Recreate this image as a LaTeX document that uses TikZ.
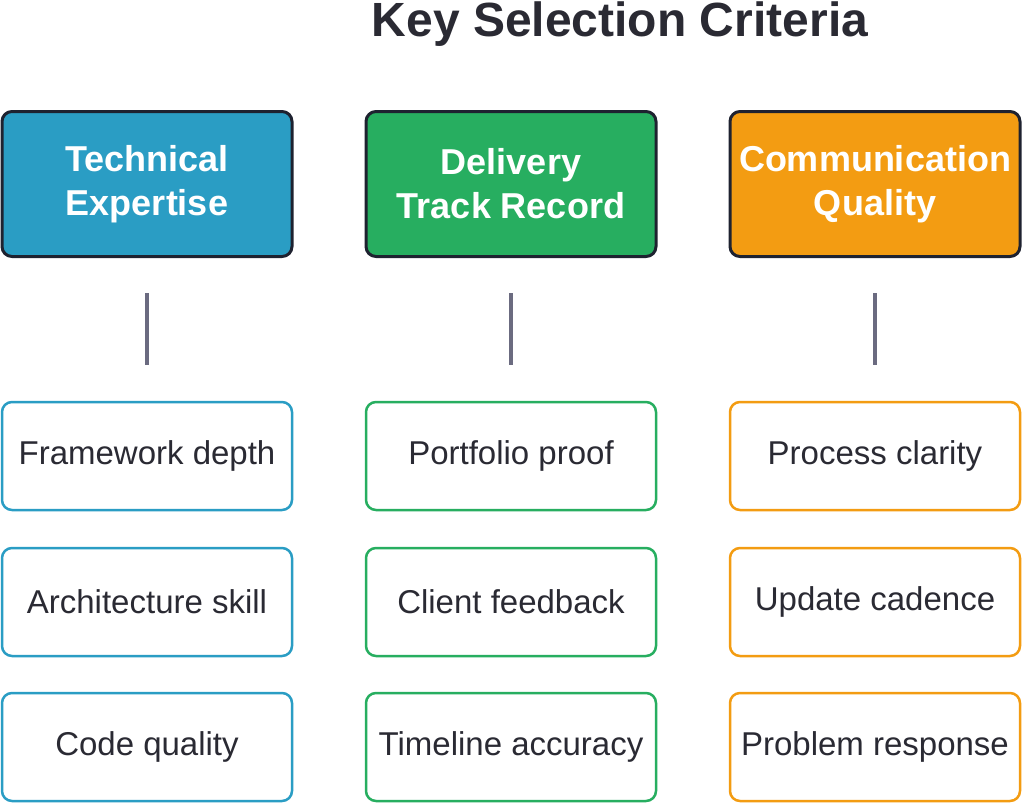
\documentclass[tikz,border=0pt]{standalone}
\usepackage{fontspec}
\setmainfont{Liberation Sans}
\usetikzlibrary{positioning}
\definecolor{techblue}{HTML}{2A9DC4}
\definecolor{delgreen}{HTML}{27AE60}
\definecolor{comorange}{HTML}{F39C12}
\definecolor{darkline}{HTML}{1E2230}
\definecolor{linkgray}{HTML}{6B6B80}
\definecolor{textdark}{HTML}{2A2A33}
\begin{document}
\begin{tikzpicture}[x=1pt,y=-1pt,
        head/.style = {
            draw=darkline, line width=3pt, rounded corners=10pt,
            minimum width=290pt, minimum height=145pt,
            text=white, align=center, inner sep=0pt,
            font=\fontsize{36}{44}\selectfont\bfseries
        },
        item/.style = {
            draw=#1, line width=2.5pt, rounded corners=10pt, fill=white,
            minimum width=290pt, minimum height=108pt,
            text=textdark, inner sep=0pt,
            font=\fontsize{33}{40}\selectfont
        },
        link/.style = {draw=linkgray, line width=4pt}]
        \useasboundingbox (0,0) rectangle (1024,804);

        \node[font=\fontsize{48}{56}\selectfont\bfseries, text=textdark] (title) at (620,24) {Key Selection Criteria};

        \node[head, fill=techblue] (tech) at (147,184) {Technical\\Expertise};
        \node[head, fill=delgreen] (deliv) at (511,184) {Delivery\\Track Record};
        \node[head, fill=comorange] (comm) at (875,184) {Communication\\Quality};

        \node[item=techblue] (t1) at (147,456) {Framework depth};
        \node[item=techblue] (t2) at (147,602) {Architecture skill};
        \node[item=techblue] (t3) at (147,747) {Code quality};

        \node[item=delgreen] (d1) at (511,456) {Portfolio proof};
        \node[item=delgreen] (d2) at (511,602) {Client feedback};
        \node[item=delgreen] (d3) at (511,747) {Timeline accuracy};

        \node[item=comorange] (c1) at (875,456) {Process clarity};
        \node[item=comorange] (c2) at (875,602) {Update cadence};
        \node[item=comorange] (c3) at (875,747) {Problem response};

        \coordinate (tl) at (147,293);
        \coordinate (dl) at (511,293);
        \coordinate (cl) at (875,293);
        \draw[link] (tl) -- ++(0,72);
        \draw[link] (dl) -- ++(0,72);
        \draw[link] (cl) -- ++(0,72);
    \end{tikzpicture}
\end{document}
